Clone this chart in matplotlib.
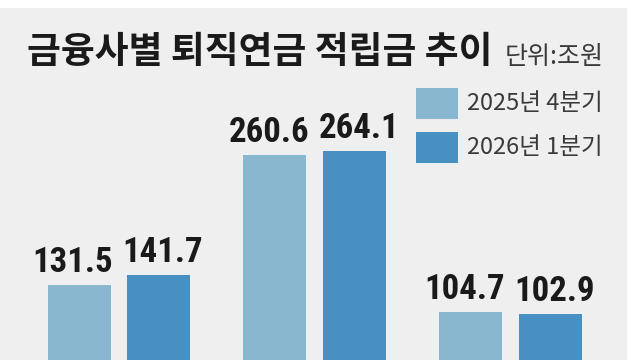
import matplotlib.pyplot as plt
import numpy as np
from matplotlib.patches import Rectangle

# 금융사별 퇴직연금 적립금 추이 (단위: 조원)
categories = ['증권', '은행', '보험']
series_names = ['2025년 4분기', '2026년 1분기']
q4_2025 = [131.5, 260.6, 104.7]
q1_2026 = [141.7, 264.1, 102.9]

C_BG = '#efefef'
C_LIGHT = '#89b7cf'
C_DARK = '#4790c2'
C_TEXT = '#1a1a1a'
C_SUB = '#3a3a3a'

KR = ['Noto Sans CJK KR', 'DejaVu Sans']
NUM = ['Roboto Condensed', 'Liberation Sans Narrow', 'Roboto', 'DejaVu Sans']

W, H = 640, 360
fig = plt.figure(figsize=(W / 100, H / 100), dpi=100)
fig.patch.set_facecolor('white')


def fx(px):
    return px / W


def fy(py):
    return 1 - py / H


# gray panel
fig.patches.append(Rectangle((0, 0), fx(627), fy(8), transform=fig.transFigure,
                             facecolor=C_BG, edgecolor='none', zorder=-5))

# axes: baseline sits below the visible area (chart is cropped at the bottom)
base_px = 417.4
px_per_unit = 1.007
ax = fig.add_axes([0, fy(base_px), 1, base_px / H])
ax.set_zorder(2)
ax.set_facecolor('none')
ax.set_ylim(0, base_px / px_per_unit)
group_px = 195.75
ax.set_xlim(-119 / group_px, (W - 119) / group_px)

x = np.arange(len(categories))
bw = 0.322
off = 0.204
b1 = ax.bar(x - off, q4_2025, bw, color=C_LIGHT, zorder=2)
b2 = ax.bar(x + off, q1_2026, bw, color=C_DARK, zorder=2)

# value labels, nudged apart a little within each pair
for bars, dx in ((b1, -4.5), (b2, 3.0)):
    for rect in bars:
        v = rect.get_height()
        ax.annotate(f'{v:.1f}', (rect.get_x() + rect.get_width() / 2, v),
                    xytext=(dx, 9.4), textcoords='offset points',
                    ha='center', va='baseline', fontsize=25,
                    fontweight='bold', family=NUM, stretch='condensed',
                    color=C_TEXT)

ax.set_xticks([])
ax.set_yticks([])
for s in ax.spines.values():
    s.set_visible(False)

# title + unit
fig.text(fx(27), fy(53), '금융사별 퇴직연금 적립금 추이', family=KR,
         fontsize=26.5, fontweight='bold', color=C_TEXT, ha='left', va='center')
fig.text(fx(604), fy(57), '단위:조원', family=KR, fontsize=18,
         color=C_SUB, ha='right', va='center')

# legend
for i, (name, col) in enumerate(zip(series_names, [C_LIGHT, C_DARK])):
    top = 88 + i * 44
    fig.patches.append(Rectangle((fx(416), fy(top + 31)), fx(42), 31 / H,
                                 transform=fig.transFigure, facecolor=col,
                                 edgecolor='none', zorder=1))
    fig.text(fx(467), fy(top + 16), name, family=KR, fontsize=17,
             color=C_SUB, ha='left', va='center')

plt.savefig('out.png', dpi=100, facecolor='white')
